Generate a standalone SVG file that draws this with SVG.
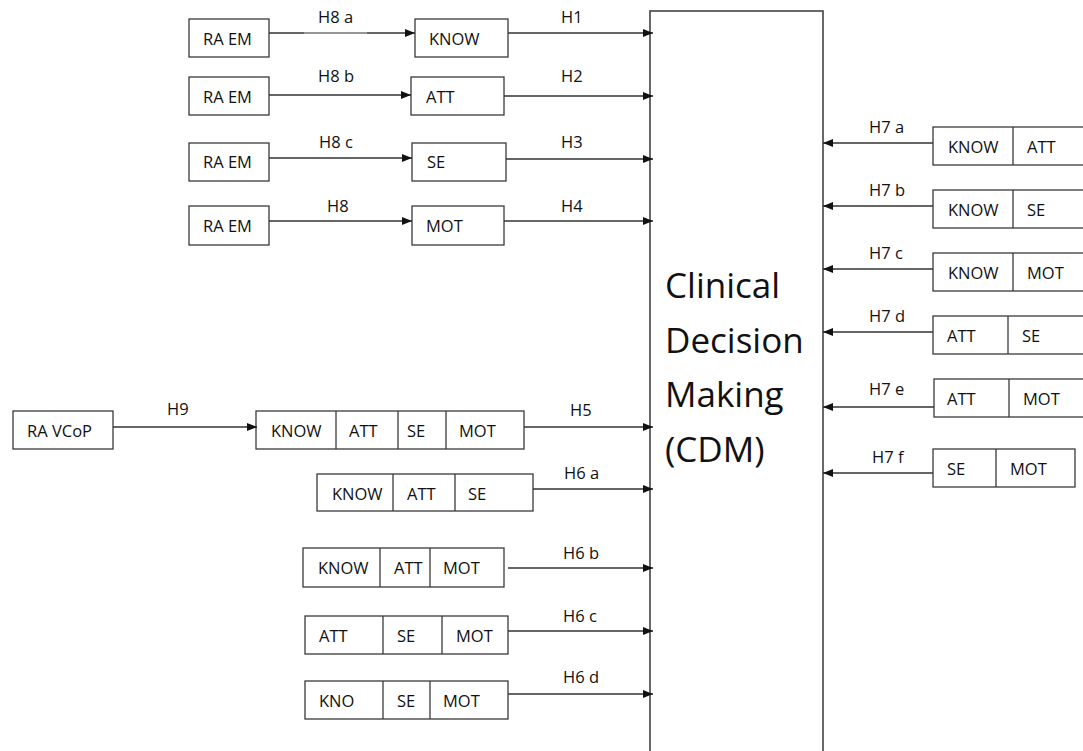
<svg xmlns="http://www.w3.org/2000/svg" width="1083" height="751" viewBox="0 0 1083 751">
<style>
  .box { fill: #ffffff; stroke: #3a3a3a; stroke-width: 1.3; }
  .div { stroke: #3a3a3a; stroke-width: 1.3; }
  .t { font-family: "Open Sans", "Liberation Sans", sans-serif; font-size: 16.5px; fill: #111111; }
  .lbl { font-family: "Open Sans", "Liberation Sans", sans-serif; font-size: 16.5px; fill: #111111; }
  .big { font-family: "Open Sans", "Liberation Sans", sans-serif; font-size: 35px; fill: #111111; }
  .conn { stroke: #333333; stroke-width: 1.3; fill: none; marker-end: url(#arr); }
</style>
<defs>
  <marker id="arr" markerUnits="userSpaceOnUse" markerWidth="11" markerHeight="9" refX="10" refY="4" orient="auto">
    <path d="M0,0 L10,4 L0,8 z" fill="#111111"/>
  </marker>
</defs>
<rect width="1083" height="751" fill="#ffffff"/>

<g id="cdm">
  <rect x="650" y="11" width="173" height="780" fill="#ffffff" stroke="#444444" stroke-width="1.6"/>
  <text class="big" x="665" y="298">Clinical</text>
  <text class="big" x="665" y="353">Decision</text>
  <text class="big" x="665" y="407">Making</text>
  <text class="big" x="665" y="462">(CDM)</text>
</g>

<g id="raem1"><rect class="box" x="189" y="19" width="80" height="38"/><text class="t" x="203" y="45">RA EM</text></g>
<g id="raem2"><rect class="box" x="189" y="77" width="80" height="38"/><text class="t" x="203" y="103">RA EM</text></g>
<g id="raem3"><rect class="box" x="189" y="143" width="80" height="38"/><text class="t" x="203" y="168">RA EM</text></g>
<g id="raem4"><rect class="box" x="189" y="206" width="80" height="39"/><text class="t" x="203" y="232">RA EM</text></g>

<g id="know1"><rect class="box" x="415" y="19" width="93" height="38"/><text class="t" x="429" y="45">KNOW</text></g>
<g id="att1"><rect class="box" x="411" y="77" width="93" height="38"/><text class="t" x="426" y="103">ATT</text></g>
<g id="se1"><rect class="box" x="412" y="143" width="94" height="38"/><text class="t" x="427" y="168">SE</text></g>
<g id="mot1"><rect class="box" x="412" y="206" width="92" height="39"/><text class="t" x="426" y="232">MOT</text></g>

<g id="ravcop"><rect class="box" x="13" y="411" width="100" height="38"/><text class="t" x="27" y="437">RA VCoP</text></g>

<g id="all4">
  <rect class="box" x="256" y="411" width="268" height="38"/>
  <line class="div" x1="336" y1="411" x2="336" y2="449"/>
  <line class="div" x1="398" y1="411" x2="398" y2="449"/>
  <line class="div" x1="446" y1="411" x2="446" y2="449"/>
  <text class="t" x="271" y="437">KNOW</text>
  <text class="t" x="349" y="437">ATT</text>
  <text class="t" x="407" y="437">SE</text>
  <text class="t" x="459" y="437">MOT</text>
</g>

<g id="h6a">
  <rect class="box" x="317" y="474" width="216" height="37"/>
  <line class="div" x1="393" y1="474" x2="393" y2="511"/>
  <line class="div" x1="455" y1="474" x2="455" y2="511"/>
  <text class="t" x="332" y="500">KNOW</text>
  <text class="t" x="407" y="500">ATT</text>
  <text class="t" x="468" y="500">SE</text>
</g>
<g id="h6b">
  <rect class="box" x="303" y="548" width="201" height="39"/>
  <line class="div" x1="380" y1="548" x2="380" y2="587"/>
  <line class="div" x1="430" y1="548" x2="430" y2="587"/>
  <text class="t" x="318" y="574">KNOW</text>
  <text class="t" x="394" y="574">ATT</text>
  <text class="t" x="443" y="574">MOT</text>
</g>
<g id="h6c">
  <rect class="box" x="305" y="616" width="203" height="38"/>
  <line class="div" x1="383" y1="616" x2="383" y2="654"/>
  <line class="div" x1="442" y1="616" x2="442" y2="654"/>
  <text class="t" x="319" y="642">ATT</text>
  <text class="t" x="397" y="642">SE</text>
  <text class="t" x="456" y="642">MOT</text>
</g>
<g id="h6d">
  <rect class="box" x="305" y="681" width="203" height="38"/>
  <line class="div" x1="383" y1="681" x2="383" y2="719"/>
  <line class="div" x1="430" y1="681" x2="430" y2="719"/>
  <text class="t" x="319" y="707">KNO</text>
  <text class="t" x="397" y="707">SE</text>
  <text class="t" x="443" y="707">MOT</text>
</g>

<g id="h7a">
  <rect class="box" x="933" y="127" width="170" height="38"/>
  <line class="div" x1="1013" y1="127" x2="1013" y2="165"/>
  <text class="t" x="948" y="153">KNOW</text>
  <text class="t" x="1027" y="153">ATT</text>
</g>
<g id="h7b">
  <rect class="box" x="933" y="190" width="170" height="38"/>
  <line class="div" x1="1013" y1="190" x2="1013" y2="228"/>
  <text class="t" x="948" y="216">KNOW</text>
  <text class="t" x="1027" y="216">SE</text>
</g>
<g id="h7c">
  <rect class="box" x="933" y="253" width="170" height="38"/>
  <line class="div" x1="1013" y1="253" x2="1013" y2="291"/>
  <text class="t" x="948" y="279">KNOW</text>
  <text class="t" x="1027" y="279">MOT</text>
</g>
<g id="h7d">
  <rect class="box" x="933" y="316" width="170" height="38"/>
  <line class="div" x1="1008" y1="316" x2="1008" y2="354"/>
  <text class="t" x="947" y="342">ATT</text>
  <text class="t" x="1022" y="342">SE</text>
</g>
<g id="h7e">
  <rect class="box" x="934" y="379" width="170" height="38"/>
  <line class="div" x1="1009" y1="379" x2="1009" y2="417"/>
  <text class="t" x="947" y="405">ATT</text>
  <text class="t" x="1023" y="405">MOT</text>
</g>
<g id="h7f">
  <rect class="box" x="933" y="449" width="142" height="38"/>
  <line class="div" x1="996" y1="449" x2="996" y2="487"/>
  <text class="t" x="947" y="475">SE</text>
  <text class="t" x="1010" y="475">MOT</text>
</g>

<g id="connectors">
  <line class="conn" x1="269" y1="33" x2="415" y2="33"/>
  <line x1="304" y1="33" x2="367" y2="33" stroke="#a8a8a8" stroke-width="1.4"/>
  <line class="conn" x1="269" y1="95" x2="411" y2="95"/>
  <line class="conn" x1="269" y1="158" x2="412" y2="158"/>
  <line class="conn" x1="269" y1="221" x2="412" y2="221"/>
  <line class="conn" x1="508" y1="33" x2="653" y2="33"/>
  <line class="conn" x1="504" y1="96" x2="653" y2="96"/>
  <line class="conn" x1="506" y1="159" x2="653" y2="159"/>
  <line class="conn" x1="504" y1="221" x2="653" y2="221"/>
  <line class="conn" x1="113" y1="427" x2="257" y2="427"/>
  <line class="conn" x1="524" y1="427" x2="653" y2="427"/>
  <line class="conn" x1="533" y1="489" x2="653" y2="489"/>
  <line class="conn" x1="508" y1="568" x2="653" y2="568"/>
  <line class="conn" x1="508" y1="631" x2="653" y2="631"/>
  <line class="conn" x1="508" y1="694" x2="653" y2="694"/>
  <line class="conn" x1="933" y1="143" x2="823" y2="143"/>
  <line class="conn" x1="933" y1="206" x2="823" y2="206"/>
  <line class="conn" x1="933" y1="269" x2="823" y2="269"/>
  <line class="conn" x1="933" y1="332" x2="823" y2="332"/>
  <line class="conn" x1="934" y1="407" x2="823" y2="407"/>
  <line class="conn" x1="933" y1="473" x2="823" y2="473"/>

  <text class="lbl" x="318" y="23">H8 a</text>
  <text class="lbl" x="318" y="82">H8 b</text>
  <text class="lbl" x="319" y="148">H8 c</text>
  <text class="lbl" x="327" y="212">H8</text>
  <text class="lbl" x="561" y="23">H1</text>
  <text class="lbl" x="561" y="82">H2</text>
  <text class="lbl" x="561" y="148">H3</text>
  <text class="lbl" x="561" y="212">H4</text>
  <text class="lbl" x="167" y="415">H9</text>
  <text class="lbl" x="570" y="416">H5</text>
  <text class="lbl" x="564" y="479">H6 a</text>
  <text class="lbl" x="563" y="559">H6 b</text>
  <text class="lbl" x="563" y="622">H6 c</text>
  <text class="lbl" x="563" y="683">H6 d</text>
  <text class="lbl" x="869" y="133">H7 a</text>
  <text class="lbl" x="869" y="196">H7 b</text>
  <text class="lbl" x="869" y="259">H7 c</text>
  <text class="lbl" x="869" y="322">H7 d</text>
  <text class="lbl" x="869" y="395">H7 e</text>
  <text class="lbl" x="872" y="463">H7 f</text>
</g>
</svg>
